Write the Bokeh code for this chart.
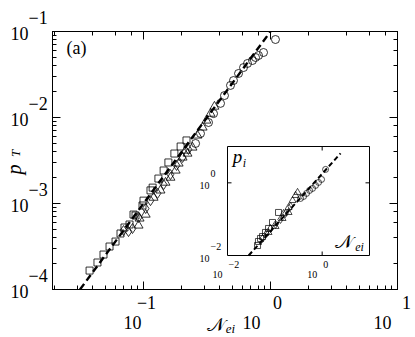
import math
from bokeh.plotting import figure
from bokeh.models import LogAxis, Label, Range1d, LogScale
from bokeh.core.properties import value
from bokeh.embed import file_html
from bokeh.resources import INLINE

# ---------------- data ----------------
# main panel: p_T vs N_ei
sq_x = [0.0376, 0.0434, 0.0484, 0.0540, 0.0602, 0.0659, 0.0708, 0.0776, 0.0834, 0.0865,
        0.0982, 0.100, 0.1135, 0.118, 0.131, 0.144, 0.157, 0.175, 0.196, 0.218]
sq_y = [1.66e-4, 2.06e-4, 2.55e-4, 3.16e-4, 3.61e-4, 4.48e-4, 5.26e-4, 5.70e-4, 7.44e-4, 7.25e-4,
        9.48e-4, 1.08e-3, 1.42e-3, 1.53e-3, 1.95e-3, 2.42e-3, 3.00e-3, 3.81e-3, 4.60e-3, 5.41e-3]
dm_x = [0.0696, 0.0762, 0.0819, 0.0914, 0.104, 0.1135, 0.129, 0.144, 0.163, 0.182, 0.203, 0.226]
dm_y = [4.85e-4, 4.72e-4, 5.12e-4, 6.87e-4, 8.74e-4, 1.08e-3, 1.31e-3, 1.66e-3, 2.17e-3, 2.77e-3,
        3.43e-3, 4.25e-3]
tr_x = [0.0914, 0.0931, 0.104, 0.120, 0.136, 0.149, 0.163, 0.179, 0.189, 0.203, 0.214, 0.222,
        0.243, 0.266, 0.292, 0.313, 0.337, 0.362]
tr_y = [5.55e-4, 6.70e-4, 7.44e-4, 1.17e-3, 1.42e-3, 1.75e-3, 2.00e-3, 2.42e-3, 2.92e-3, 3.43e-3,
        4.13e-3, 3.81e-3, 4.48e-3, 6.18e-3, 7.66e-3, 9.23e-3, 1.11e-2, 1.34e-2]
ci_x = [0.257, 0.281, 0.325, 0.356, 0.404, 0.434, 0.484, 0.511, 0.560, 0.613, 0.659, 0.721,
        0.762, 0.805, 0.881, 1.094]
ci_y = [4.99e-3, 6.52e-3, 8.75e-3, 1.11e-2, 1.46e-2, 1.80e-2, 2.36e-2, 2.69e-2, 3.25e-2, 3.81e-2,
        4.25e-2, 4.60e-2, 4.99e-2, 5.26e-2, 5.70e-2, 8.07e-2]
fit_x = [0.0316, 1.0]
fit_y = [1.0e-4, 0.1]

# inset: p_i vs N_ei
isq_x = [0.0431, 0.0451, 0.0499, 0.0550, 0.0635, 0.0736, 0.0893, 0.1197]
isq_y = [0.0188, 0.0243, 0.0294, 0.0333, 0.0431, 0.0555, 0.0811, 0.153]
idm_x = [0.0550, 0.0668, 0.0811, 0.1035, 0.1318, 0.168, 0.215]
idm_y = [0.0294, 0.0404, 0.0555, 0.0714, 0.0982, 0.1435, 0.224]
itr_x = [0.0736, 0.1035, 0.1455, 0.1528, 0.195, 0.195, 0.237, 0.274, 0.302]
itr_y = [0.0431, 0.0630, 0.1045, 0.1435, 0.153, 0.210, 0.327, 0.450, 0.545]
ici_x = [0.349, 0.405, 0.468, 0.542, 0.627, 0.725, 0.839, 0.971, 1.18]
ici_y = [0.372, 0.422, 0.511, 0.618, 0.702, 0.848, 1.026, 1.24, 2.34]
ifit_x = [0.028, 2.45]
ifit_y = [0.01, 6.5]

# axes
x_range = (0.0192, 10.0)
y_range = (1e-4, 1e-1)
x_ticks = [0.1, 1.0, 10.0]
x_exps = ["\u22121", "0", "1"]
y_ticks = [1e-4, 1e-3, 1e-2, 1e-1]
y_exps = ["\u22124", "\u22123", "\u22122", "\u22121"]
ix_range = (1e-2, 1e1)
iy_range = (1e-2, 1e1)
ix_ticks = [1e-2, 1.0]
ix_exps = ["\u22122", "0"]
iy_ticks = [1e-2, 1.0]
iy_exps = ["\u22122", "0"]

# ---------------- geometry ----------------
W, H = 414, 336
FL, FT, FR, FB = 52, 31, 397, 289          # main frame (px)
IL, IT, IR, IB = 227, 146, 369, 255        # inset frame (px)
FONT = "Liberation Serif"

p = figure(width=W, height=H, x_axis_type="log", y_axis_type="log",
           x_range=Range1d(*x_range), y_range=Range1d(*y_range),
           output_backend="svg", toolbar_location=None,
           min_border_left=FL, min_border_right=W - FR,
           min_border_top=FT, min_border_bottom=H - FB)
p.grid.visible = False
p.background_fill_color = "white"
p.border_fill_color = "white"
p.outline_line_color = "black"
p.outline_line_width = 1

p.add_layout(LogAxis(), "above")
p.add_layout(LogAxis(), "right")
for ax in p.axis:
    ax.major_label_text_font_size = "1px"
    ax.major_label_text_alpha = 0
    ax.major_label_standoff = 0
    ax.major_tick_in = 8
    ax.major_tick_out = 0
    ax.minor_tick_in = 4
    ax.minor_tick_out = 0
    ax.axis_line_color = "black"
    ax.axis_line_width = 1
    ax.major_tick_line_color = "black"
    ax.minor_tick_line_color = "black"

# inset ranges mapped so that the inset box sits at IL..IR, IT..IB
lxa, lxb = math.log10(ix_range[0]), math.log10(ix_range[1])
kx = (lxb - lxa) / (IR - IL)
exr = (10 ** (lxa - kx * (IL - FL)), 10 ** (lxb + kx * (FR - IR)))
lya, lyb = math.log10(iy_range[0]), math.log10(iy_range[1])
ky = (lyb - lya) / (IB - IT)
eyr = (10 ** (lya - ky * (FB - IB)), 10 ** (lyb + ky * (IT - FT)))
p.extra_x_ranges = {"ix": Range1d(*exr)}
p.extra_y_ranges = {"iy": Range1d(*eyr)}
p.extra_x_scales = {"ix": LogScale()}
p.extra_y_scales = {"iy": LogScale()}

# ---------------- main panel ----------------
p.line(fit_x, fit_y, line_color="black", line_width=2.4, line_dash="7 4")
mk = dict(fill_color=None, line_color="black", line_width=0.8)
p.scatter(sq_x, sq_y, marker="square", size=7, **mk)
p.scatter(dm_x, dm_y, marker="diamond", size=10, **mk)
p.scatter(tr_x, tr_y, marker="triangle", size=9, **mk)
p.scatter(ci_x, ci_y, marker="circle", size=8, **mk)

# texts outside the frame: text glyphs at overlay level (not clipped)
def txt(x, y, text, xo, yo, align, size, style="normal", angle=0.0):
    p.text(x=x, y=y, text=text, x_offset=xo, y_offset=yo, angle=angle,
           text_align=align, text_baseline="middle", text_font=value(FONT),
           text_font_size=size, text_font_style=style, text_color="black",
           level="overlay")

# x tick labels: "10" below, exponent raised to the right
txt(x_ticks, [y_range[0]] * 3, ["10"] * 3, [-11, -19, -15], [33] * 3, "center", "18px")
txt(x_ticks, [y_range[0]] * 3, x_exps, [3, 7, 9], [13] * 3, "center", "18px")
# y tick labels
txt([x_range[0]] * 4, y_ticks, ["10"] * 4, [-24] * 4, [2] * 4, "right", "18px")
txt([x_range[0]] * 4, y_ticks, y_exps, [-24] * 4, [-14] * 4, "left", "18px")
# axis titles
txt([x_range[0]], [10 ** -2.5], ["p"], [-39], [9], "center", "20px", "italic", math.pi / 2)
txt([x_range[0]], [10 ** -2.5], ["T"], [-37], [-7], "center", "13px", "italic", math.pi / 2)
txt([1.0], [y_range[0]], ["\U0001D4A9"], [-55], [35], "center", "19px")
txt([1.0], [y_range[0]], ["ei"], [-40], [39], "center", "13px", "italic")

def lab(**kw):
    d = dict(text_font=FONT, text_color="black")
    d.update(kw)
    p.add_layout(Label(**d))

lab(x=x_range[0], y=y_range[1], text="(a)", x_offset=24, y_offset=-16,
    text_align="center", text_baseline="middle", text_font_size="18px")

# ---------------- inset ----------------
R = dict(x_range_name="ix", y_range_name="iy")
p.quad(left=ix_range[0], right=ix_range[1], bottom=iy_range[0], top=iy_range[1],
       fill_color="white", line_color="black", line_width=1, **R)
tlx = 10 ** (4 * kx)
tly = 10 ** (4 * ky)
tx = [t for t in ix_ticks if ix_range[0] < t < ix_range[1]]
ty = [t for t in iy_ticks if iy_range[0] < t < iy_range[1]]
p.segment(x0=tx, x1=tx, y0=[iy_range[0]] * len(tx), y1=[iy_range[0] * tly] * len(tx),
          line_color="black", **R)
p.segment(x0=tx, x1=tx, y0=[iy_range[1]] * len(tx), y1=[iy_range[1] / tly] * len(tx),
          line_color="black", **R)
p.segment(x0=[ix_range[0]] * len(ty), x1=[ix_range[0] * tlx] * len(ty), y0=ty, y1=ty,
          line_color="black", **R)
p.segment(x0=[ix_range[1]] * len(ty), x1=[ix_range[1] / tlx] * len(ty), y0=ty, y1=ty,
          line_color="black", **R)

p.line(ifit_x, ifit_y, line_color="black", line_width=2, line_dash="5 3", **R)
imk = dict(fill_color=None, line_color="black", line_width=0.7, **R)
p.scatter(isq_x, isq_y, marker="square", size=6, **imk)
p.scatter(idm_x, idm_y, marker="diamond", size=8, **imk)
p.scatter(itr_x, itr_y, marker="triangle", size=7, **imk)
p.scatter(ici_x, ici_y, marker="circle", size=6, **imk)

for v, e in zip(ix_ticks, ix_exps):
    lab(x=v, y=iy_range[0], text="10", x_offset=-10, y_offset=-19, text_align="center",
        text_baseline="middle", text_font_size="10px", **R)
    lab(x=v, y=iy_range[0], text=e, x_offset=1, y_offset=-9, text_align="left",
        text_baseline="middle", text_font_size="10px", **R)
for v, e in zip(iy_ticks, iy_exps):
    lab(x=ix_range[0], y=v, text="10", x_offset=-18, y_offset=-3, text_align="right",
        text_baseline="middle", text_font_size="10px", **R)
    lab(x=ix_range[0], y=v, text=e, x_offset=-17, y_offset=9, text_align="left",
        text_baseline="middle", text_font_size="10px", **R)

lab(x=ix_range[0], y=iy_range[1], text="p", x_offset=10, y_offset=-10, text_align="center",
    text_baseline="middle", text_font_size="19px", text_font_style="italic", **R)
lab(x=ix_range[0], y=iy_range[1], text="i", x_offset=17, y_offset=-16, text_align="center",
    text_baseline="middle", text_font_size="12px", text_font_style="italic", **R)
lab(x=ix_range[1], y=iy_range[0], text="\U0001D4A9", x_offset=-26, y_offset=14,
    text_align="center", text_baseline="middle", text_font_size="19px", **R)
lab(x=ix_range[1], y=iy_range[0], text="ei", x_offset=-10, y_offset=9, text_align="center",
    text_baseline="middle", text_font_size="12px", text_font_style="italic", **R)

open("out.html", "w").write(file_html(p, INLINE))
